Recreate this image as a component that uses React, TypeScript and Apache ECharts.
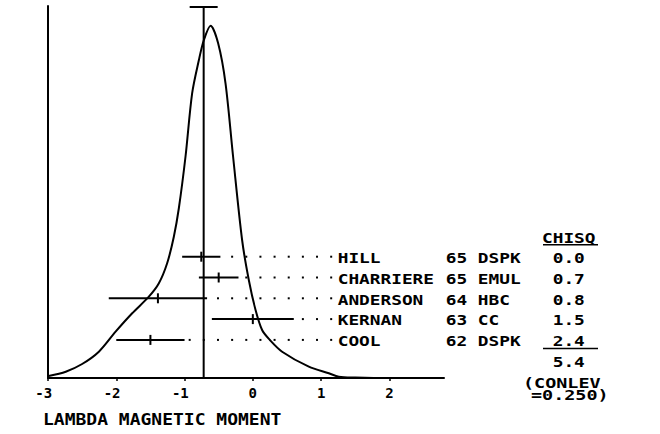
import React, { useEffect, useRef } from "react";
import * as echarts from "echarts";

// ---- data ----
const xTicks = [-3, -2, -1, 0, 1, 2];
const names = ["HILL", "CHARRIERE", "ANDERSON", "KERNAN", "COOL"];
const years = ["65", "65", "64", "63", "62"];
const methods = ["DSPK", "EMUL", "HBC", "CC", "DSPK"];
const values = [-0.755, -0.5, -1.39, 0.0, -1.5];
const errors = [0.28, 0.29, 0.72, 0.6, 0.5];
const chisq = ["0.0", "0.7", "0.8", "1.5", "2.4"];
const chisqTotal = "5.4";
const conlevText = ["(CONLEV", "=0.250)"];
const meanValue = -0.72;
const meanError = 0.205;
const curveX = [-2.99, -2.74, -2.5, -2.255, -2.01, -1.767, -1.523, -1.376, -1.255, -1.157, -1.083, -0.985, -0.889, -0.79, -0.717, -0.619, -0.508, -0.4, -0.29, -0.157, -0.059, 0.04, 0.136, 0.25, 0.429, 0.82, 1.113, 1.259, 1.5, 2.0, 2.8];
const curveY = [2, 6.3, 14, 26.3, 46.3, 64.7, 81.3, 94.7, 114.7, 141.3, 170, 222, 284.7, 318, 338, 352.3, 334.7, 294.7, 222, 138, 98, 68, 48, 38, 26.3, 11.3, 4.7, 1.3, 0.5, 0, 0];
const xAxisTitle = "LAMBDA MAGNETIC MOMENT";

// ---- layout ----
const W = 660;
const H = 434;
const gridLeft = 48;
const gridTop = 6;
const gridWidth = 396;
const gridHeight = 372;
const yMax = 372;
const rowTop = 121.3;
const rowStep = 20.8;
const rowY = (i: number) => rowTop - rowStep * i;
const baseY = gridTop + gridHeight;
const cell0 = 327;
const pitch = 10.7;
const cellX = (n: number) => cell0 + pitch * n;
const FONT = '"DejaVu Sans Mono", "Liberation Mono", monospace';
const rowScale = pitch / (14 * 0.602);

function txt(text: string, x: number, y: number, size: number, scale: number) {
  return {
    type: "text",
    x,
    y,
    scaleX: scale,
    silent: true,
    style: {
      text,
      fill: "#000",
      fontFamily: FONT,
      fontSize: size,
      fontWeight: "bold",
      textAlign: "left",
      textVerticalAlign: "middle",
      align: "left",
      verticalAlign: "middle",
    },
  };
}

export default function App() {
  const ref = useRef<HTMLDivElement>(null);
  useEffect(() => {
    if (!ref.current) return;
    const chart = echarts.init(ref.current, null, { renderer: "svg" });

    const graphics: any[] = [];
    names.forEach((n, i) => {
      const py = baseY - rowY(i) + 1.5;
      graphics.push(txt(n, cellX(1), py, 14, rowScale));
      graphics.push(txt(years[i], cellX(11) + 1, py, 14, rowScale));
      graphics.push(txt(methods[i], cellX(14) + 1, py, 14, rowScale));
      graphics.push(txt(chisq[i], cellX(21) + 1, py, 14, rowScale));
    });
    const headY = baseY - rowY(0) - 19;
    graphics.push(txt("CHISQ", cellX(20) + 1, headY, 14, rowScale));
    graphics.push({
      type: "line",
      shape: { x1: 543, y1: headY + 7, x2: 598, y2: headY + 7 },
      style: { stroke: "#000", lineWidth: 1.5 },
    });
    const lastY = baseY - rowY(names.length - 1) + 1.5;
    graphics.push({
      type: "line",
      shape: { x1: 543, y1: lastY + 7, x2: 598, y2: lastY + 7 },
      style: { stroke: "#000", lineWidth: 1.5 },
    });
    graphics.push(txt(chisqTotal, cellX(21) + 1, lastY + 21, 14, rowScale));
    graphics.push(txt(conlevText[0], 523, 383.5, 14, 11.1 / (14 * 0.602)));
    graphics.push(txt(conlevText[1], 531, 395.5, 14, 11.1 / (14 * 0.602)));
    graphics.push(txt(xAxisTitle, 43, 419, 16, 10.85 / (16 * 0.602)));

    const rows = values.map((v, i) => [v, errors[i], rowY(i)]);

    chart.setOption({
      animation: false,
      backgroundColor: "#fff",
      grid: { left: gridLeft, top: gridTop, width: gridWidth, height: gridHeight },
      xAxis: {
        type: "value",
        min: xTicks[0],
        max: 2.8,
        interval: 1,
        axisLine: { show: true, onZero: false, lineStyle: { color: "#000", width: 2 } },
        axisTick: { show: true, length: 3, lineStyle: { color: "#000", width: 1.5 } },
        axisLabel: {
          color: "#000",
          fontFamily: FONT,
          fontWeight: "bold",
          fontSize: 14,
          margin: 8,
          showMaxLabel: false,
          formatter: (v: number) => (v < 0 ? `-${Math.abs(v)}\u00a0` : `${v}`),
        },
        splitLine: { show: false },
      },
      yAxis: {
        type: "value",
        min: 0,
        max: yMax,
        axisLine: { show: true, onZero: false, lineStyle: { color: "#000", width: 2 } },
        axisTick: { show: false },
        axisLabel: { show: false },
        splitLine: { show: false },
      },
      series: [
        {
          type: "line",
          data: curveX.map((x, i) => [x, curveY[i]]),
          symbol: "none",
          smooth: 0.3,
          lineStyle: { color: "#000", width: 2 },
          z: 3,
        },
        {
          type: "line",
          data: [
            [meanValue, 0],
            [meanValue, yMax - 1],
          ],
          symbol: "none",
          lineStyle: { color: "#000", width: 2 },
          z: 4,
        },
        {
          type: "line",
          data: [
            [meanValue - meanError, yMax - 1],
            [meanValue + meanError, yMax - 1],
          ],
          symbol: "none",
          lineStyle: { color: "#000", width: 2 },
          z: 4,
        },
        {
          type: "custom",
          data: rows,
          z: 5,
          renderItem: (_p: any, api: any) => {
            const v = api.value(0);
            const e = api.value(1);
            const y = api.value(2);
            const c = api.coord([v, y]);
            const lo = api.coord([v - e, y]);
            const hi = api.coord([v + e, y]);
            const zero = api.coord([0, y]);
            const children: any[] = [
              { type: "line", shape: { x1: lo[0], y1: c[1], x2: hi[0], y2: c[1] }, style: { stroke: "#000", lineWidth: 2 } },
              { type: "line", shape: { x1: c[0], y1: c[1] - 5, x2: c[0], y2: c[1] + 5 }, style: { stroke: "#000", lineWidth: 2 } },
            ];
            const step = 14.15;
            const anchor = zero[0] - 20.7;
            for (let k = -6; k <= 7; k++) {
              const x = anchor + k * step;
              if (x > hi[0] + 2) {
                children.push({ type: "rect", shape: { x: x - 1, y: c[1] - 1, width: 2, height: 2 }, style: { fill: "#000" } });
              }
            }
            return { type: "group", children };
          },
        },
      ],
      graphic: graphics,
    });
    return () => chart.dispose();
  }, []);
  return <div ref={ref} style={{ position: "fixed", left: 0, top: 0, width: W, height: H }} />;
}
